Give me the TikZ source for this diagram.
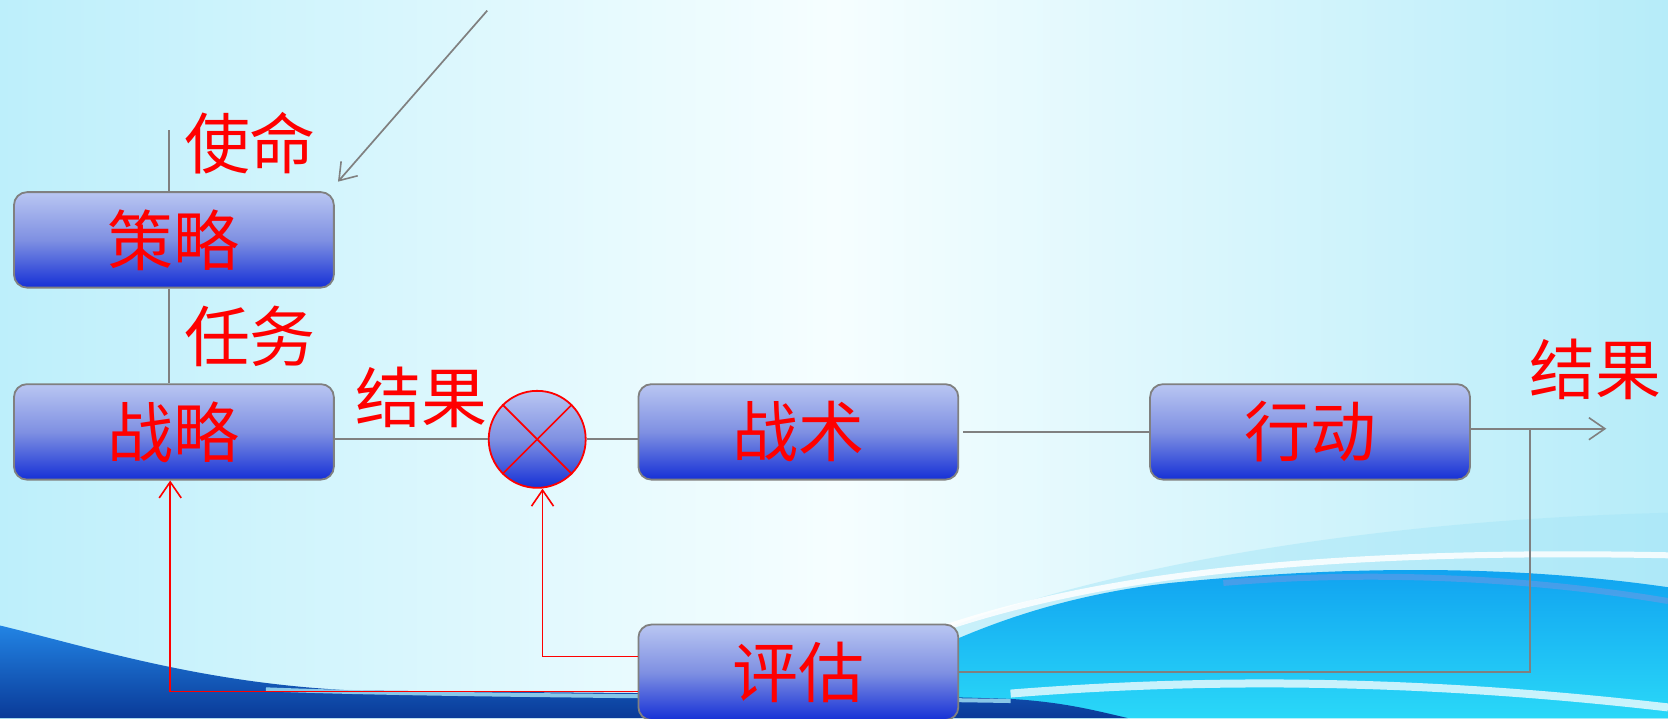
\documentclass[tikz,border=0pt]{standalone}
\usepackage{fontspec}
\newfontfamily\cjk{Noto Sans CJK SC}
\usetikzlibrary{arrows.meta}
\definecolor{gline}{HTML}{808080}
\definecolor{boxtop}{HTML}{B9C6F2}
\definecolor{boxmid}{HTML}{7F90E2}
\definecolor{boxbot}{HTML}{1530D6}
\definecolor{bgL}{HTML}{BDEFFB}
\definecolor{bgM}{HTML}{F6FEFF}
\definecolor{bgR}{HTML}{B6ECF9}
\definecolor{wvA}{HTML}{A6E6F8}
\definecolor{wvB}{HTML}{0FA0F0}
\definecolor{wvC}{HTML}{2AD8F8}
\definecolor{wvD}{HTML}{2284E4}
\definecolor{wvE}{HTML}{0A3A98}
\definecolor{wvP}{HTML}{8494E2}
\definecolor{txtred}{HTML}{FF0000}
\begin{document}
\begin{tikzpicture}[x=1.064pt,y=-1.064pt,
  box/.style={draw=gline, line width=1.8pt, rounded corners=13pt,
    minimum width=320pt, minimum height=95.5pt, inner sep=0pt,
    top color=boxtop, bottom color=boxbot, middle color=boxmid,
    font=\cjk\fontsize{66}{70}\selectfont, text=txtred},
  sumnode/.style={circle, draw=txtred, line width=1.8pt, minimum size=97pt, inner sep=0pt,
    top color=boxtop, bottom color=boxbot, middle color=boxmid},
  lbl/.style={font=\cjk\fontsize{66}{70}\selectfont, text=txtred, inner sep=0pt},
  gl/.style={draw=gline, line width=1.7pt},
  rl/.style={draw=txtred, line width=1.6pt},
  arr/.style={-{Straight Barb[length=16pt,width=22pt,line width=1.6pt]}}
]
\useasboundingbox (0,0) rectangle (1568,675);
% ---- background ----
\shade[left color=bgL, right color=bgR, middle color=bgM] (0,0) rectangle (1568,675);
\fill[wvA, opacity=0.5] (780,640) .. controls (950,545) and (1250,490) .. (1568,482) -- (1568,675) -- (780,675) -- cycle;
\shade[top color=wvB, bottom color=wvC] (760,675) .. controls (850,620) and (950,565) .. (1100,548) .. controls (1300,528) and (1450,535) .. (1568,552) -- (1568,675) -- cycle;
\draw[wvP, line width=6pt, opacity=0.45] (1150,548) .. controls (1300,535) and (1450,545) .. (1568,565);
\draw[white, line width=6pt, opacity=0.85] (860,600) .. controls (1000,548) and (1200,515) .. (1568,522);
\draw[white, line width=8pt, opacity=0.75] (950,652) .. controls (1150,636) and (1350,640) .. (1568,665);
\shade[top color=wvD, bottom color=wvE] (0,588) .. controls (90,610) and (190,642) .. (330,649) .. controls (600,652) and (800,652) .. (950,657) .. controls (1000,660) and (1030,668) .. (1060,675) -- (0,675) -- cycle;
\draw[wvA, line width=4pt, opacity=0.8] (250,648) .. controls (400,654) and (650,654) .. (950,659);
% ---- nodes ----
\node[box] (s) at (163.5,225.5) {策略};
\node[box] (z) at (163.5,406) {战略};
\node[box] (t) at (750.5,406) {战术};
\node[box] (x) at (1231.5,406) {行动};
\node[box] (e) at (750.5,632) {评估};
\node[sumnode] (c) at (505,413) {};
\draw[rl] (c.north west) -- (c.south east);
\draw[rl] (c.north east) -- (c.south west);
% ---- labels ----
\node[lbl] (l1) at (235,135) {使命};
\node[lbl] (l2) at (235,316) {任务};
\node[lbl] (l3) at (396,374) {结果};
\node[lbl] (l4) at (1500,347) {结果};
% ---- connectors ----
\coordinate (top) at (159,122);
\draw[gl] (top |- s.north) -- (top);
\draw[gl] (s.south -| top) -- (z.north -| top);
\coordinate (a0) at (458,10);
\draw[gl,arr] (a0) -- ([shift={(3,-9)}]s.north east);
\draw[gl] (z.east |- c.west) -- (c.west);
\draw[gl] (c.east) -- (c.east -| t.west);
\draw[gl, shorten <=4pt] (t.east) -- (x.west);
\coordinate (out) at (1510,403);
\draw[gl,arr] (x.east |- out) -- (out);
\coordinate (j) at (1438,403);
\draw[gl] (j) |- (e.east);
\coordinate (r1) at (510,617);
\draw[rl,arr] (r1 -| e.west) -- (r1) -- (r1 |- c.south);
\coordinate (r2) at (160,650);
\draw[rl,arr] (r2 -| e.west) -- (r2) -- (r2 |- z.south);
\end{tikzpicture}
\end{document}
